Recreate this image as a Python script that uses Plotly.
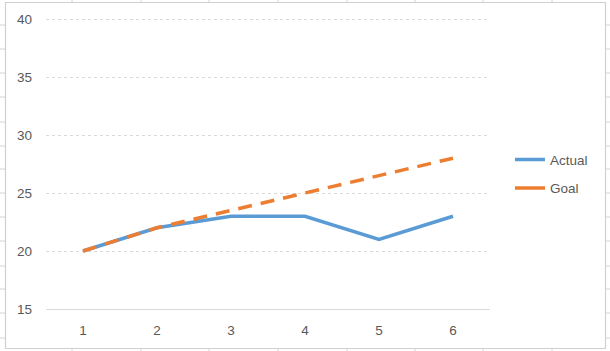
import plotly.graph_objects as go

categories = [1, 2, 3, 4, 5, 6]
actual = [20, 22, 23, 23, 21, 23]
goal = [20, 22, 23.5, 25, 26.5, 28]
y_ticks = [15, 20, 25, 30, 35, 40]
series_names = ["Actual", "Goal"]
series_colors = ["#5B9BD5", "#ED7D31"]

W, H = 610, 351
L, R, T, B = 46, 120, 16, 42
PW = W - L - R
PH = H - T - B

def px(x):
    return (x - L) / PW

def py(y):
    return (H - B - y) / PH

fig = go.Figure()
fig.add_trace(go.Scatter(x=categories, y=actual, mode="lines", name=series_names[0],
                         showlegend=False,
                         line=dict(color=series_colors[0], width=3.5)))
fig.add_trace(go.Scatter(x=categories, y=goal, mode="lines", name=series_names[1],
                         showlegend=False,
                         line=dict(color=series_colors[1], width=3.5, dash="14px,9px")))
for i, (nm, col) in enumerate(zip(series_names, series_colors)):
    fig.add_trace(go.Scatter(x=[None], y=[None], mode="lines", name=nm,
                             legendgroup=nm, showlegend=True,
                             line=dict(color=col, width=3.5)))

shapes = []
grid_col = "#d4d4d4"
for x in [72, 141, 209, 278, 347, 415, 483, 552]:
    shapes.append(dict(type="line", xref="paper", yref="paper",
                       x0=px(x), x1=px(x), y0=py(0), y1=py(2.5),
                       line=dict(color=grid_col, width=1), layer="below"))
    shapes.append(dict(type="line", xref="paper", yref="paper",
                       x0=px(x), x1=px(x), y0=py(348.5), y1=py(351),
                       line=dict(color=grid_col, width=1), layer="below"))
for y in [25, 49, 73, 97, 122, 146, 169, 193, 217, 241, 266, 289, 313, 338]:
    shapes.append(dict(type="line", xref="paper", yref="paper",
                       x0=px(0), x1=px(5), y0=py(y), y1=py(y),
                       line=dict(color=grid_col, width=1), layer="below"))
    shapes.append(dict(type="line", xref="paper", yref="paper",
                       x0=px(606), x1=px(610), y0=py(y), y1=py(y),
                       line=dict(color=grid_col, width=1), layer="below"))
shapes.append(dict(type="rect", xref="paper", yref="paper",
                   x0=px(5.5), x1=px(605.5), y0=py(348.5), y1=py(2.5),
                   line=dict(color="#d0d0d0", width=1.2), layer="below"))

fig.update_layout(
    width=W, height=H,
    margin=dict(l=L, r=R, t=T, b=B),
    paper_bgcolor="white", plot_bgcolor="white",
    font=dict(family="Liberation Sans, Arial, sans-serif", size=13, color="#595959"),
    shapes=shapes,
    showlegend=True,
    legend=dict(x=1.045, y=0.46, xanchor="left", yanchor="middle",
                font=dict(size=13.5, color="#595959"),
                tracegroupgap=8, traceorder="grouped",
                bgcolor="rgba(0,0,0,0)"),
    xaxis=dict(type="category", range=[-0.5, 5.5], showgrid=False,
               showline=True, linecolor="#d9d9d9", linewidth=1,
               ticks="", ticklabelstandoff=9, zeroline=False,
               tickfont=dict(size=13.5, color="#595959")),
    yaxis=dict(range=[15, 40.26], tickvals=y_ticks, showgrid=True,
               gridcolor="#d9d9d9", griddash="dot", gridwidth=1,
               showline=False, zeroline=False, ticks="",
               ticklabelstandoff=13,
               tickfont=dict(size=13.5, color="#595959")),
)

fig.write_html("out.html")
